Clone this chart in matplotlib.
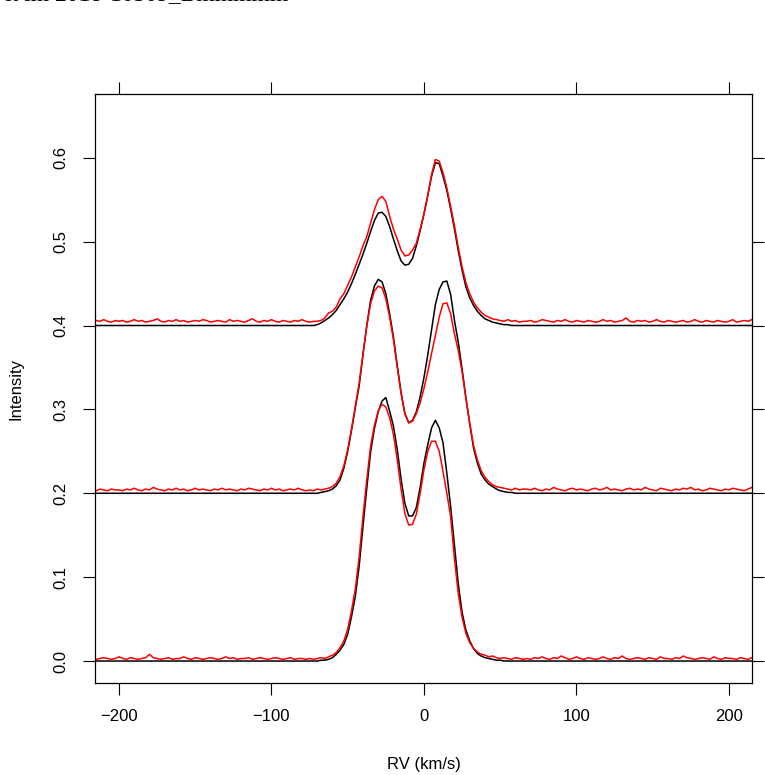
import numpy as np
import matplotlib
matplotlib.use("Agg")
import matplotlib.pyplot as plt

# velocity grids (km/s)
rv_obs = np.arange(-215, 215.1, 2.5)                                  # 173 points
rv_mod = np.concatenate([[-216], np.arange(-75, 65.1, 2.5), [216]])   # 59 points

offsets = [0.0, 0.2, 0.4]

# model profiles (black), intensity x 1000 above each baseline, -75 .. 65 km/s
model_low = [0, 0, 0, 1, 1, 2, 4, 8, 13, 20,
             32, 53, 77, 113, 160, 206, 249, 277, 297, 310,
             314, 298, 280, 252, 217, 188, 173, 173, 183, 207,
             236, 258, 278, 287, 278, 260, 224, 184, 138, 92,
             58, 37, 24, 15, 9, 6, 4, 3, 2, 1,
             1, 0, 0, 0, 0, 0, 0]
model_mid = [0, 0, 0, 1, 2, 3, 5, 9, 16, 30,
             50, 75, 102, 128, 165, 200, 230, 247, 255, 252,
             238, 214, 186, 152, 120, 95, 84, 87, 97, 115,
             138, 165, 195, 225, 243, 252, 253, 237, 206, 180,
             148, 114, 83, 54, 36, 23, 16, 11, 8, 5,
             3, 2, 1, 1, 0, 0, 0]
model_top = [0, 0, 1, 3, 6, 9, 13, 18, 25, 32,
             40, 50, 61, 73, 85, 98, 112, 125, 134, 135,
             130, 118, 103, 89, 77, 72, 73, 80, 95, 113,
             133, 155, 178, 194, 193, 178, 161, 139, 115, 89,
             66, 46, 33, 24, 17, 12, 8, 6, 4, 3,
             2, 1, 1, 0, 0, 0, 0]

# observed profiles (red), intensity x 1000, -215 .. 215 km/s
obs_low = [2, 3, 4, 3, 2, 3, 5, 3, 2, 4, 3, 2, 3, 4, 8, 4, 3, 2, 3, 4,
           2, 3, 3, 5, 3, 2, 4, 3, 2, 3, 4, 3, 2, 3, 5, 3, 4, 2, 3, 3,
           4, 2, 3, 4, 3, 2, 3, 4, 3, 2, 3, 4, 2, 3, 3, 2,
           3, 2, 3, 4, 3, 5, 7, 10, 16, 24,
           38, 60, 86, 124, 172, 216, 256, 281, 298, 306,
           303, 290, 270, 240, 205, 176, 162, 163, 175, 200,
           228, 250, 262, 262, 250, 226, 200, 172, 122, 80,
           52, 33, 22, 15, 11, 8, 7, 5, 6, 4,
           3, 4, 3, 2, 4, 3, 2,
           3, 2, 4, 3, 5, 3, 2, 4, 3, 6, 4, 2, 3, 5, 3, 2, 4, 3, 2, 3,
           5, 3, 2, 4, 3, 6, 3, 2, 3, 4, 3, 2, 4, 3, 2, 5, 3, 3, 2, 4,
           3, 6, 4, 3, 2, 3, 4, 3, 2, 5, 3, 2, 4, 3, 3, 2, 4, 3, 2, 4]
obs_mid = [3, 5, 4, 3, 5, 4, 4, 3, 5, 4, 6, 4, 3, 5, 4, 7, 5, 4, 3, 5,
           4, 6, 4, 5, 3, 4, 6, 4, 5, 4, 3, 5, 4, 6, 4, 5, 4, 3, 5, 4,
           6, 5, 4, 3, 5, 4, 6, 4, 5, 3, 4, 5, 4, 6, 4, 3,
           4, 3, 5, 4, 5, 6, 8, 12, 20, 33,
           52, 77, 104, 131, 166, 199, 226, 241, 247, 245,
           232, 210, 183, 150, 119, 95, 84, 86, 95, 108,
           125, 145, 167, 188, 210, 226, 227, 214, 190, 170,
           145, 113, 84, 57, 40, 27, 19, 14, 10, 8,
           7, 6, 5, 4, 6, 4, 5,
           5, 4, 6, 4, 3, 5, 4, 7, 5, 4, 3, 5, 6, 4, 5, 4, 3, 5, 6, 4,
           5, 7, 4, 5, 4, 3, 5, 6, 4, 5, 4, 7, 5, 4, 3, 6, 5, 4, 3, 5,
           4, 6, 5, 7, 4, 5, 3, 4, 6, 5, 4, 3, 5, 4, 6, 5, 4, 3, 5, 7]
obs_top = [6, 5, 7, 5, 4, 6, 5, 6, 4, 5, 7, 5, 6, 4, 5, 6, 8, 5, 4, 6,
           5, 7, 5, 6, 4, 5, 6, 5, 7, 6, 4, 5, 6, 5, 4, 7, 5, 6, 5, 4,
           6, 8, 5, 4, 6, 5, 7, 5, 4, 6, 5, 4, 6, 5, 7, 5,
           4, 5, 5, 6, 9, 15, 17, 22, 32, 38,
           48, 58, 70, 82, 95, 106, 122, 138, 150, 154,
           148, 130, 115, 103, 90, 83, 84, 90, 98, 115,
           133, 155, 180, 198, 196, 182, 164, 142, 119, 93,
           70, 51, 38, 28, 21, 16, 12, 10, 8, 7,
           6, 5, 7, 5, 6, 4, 5,
           5, 6, 4, 5, 7, 6, 5, 4, 6, 5, 7, 5, 4, 6, 5, 4, 6, 5, 4, 5,
           7, 5, 6, 4, 5, 6, 9, 5, 4, 6, 5, 6, 4, 5, 7, 5, 4, 6, 5, 4,
           5, 6, 4, 5, 7, 5, 4, 6, 5, 4, 6, 5, 4, 5, 7, 4, 5, 6, 5, 7]

models = [model_low, model_mid, model_top]
observed = [obs_low, obs_mid, obs_top]

x_ticks = [-200, -100, 0, 100, 200]
y_ticks = [0.0, 0.1, 0.2, 0.3, 0.4, 0.5, 0.6]

plt.rcParams['font.family'] = ['Liberation Sans', 'DejaVu Sans']

fig = plt.figure(figsize=(7.65, 7.75), dpi=100)
ax = fig.add_axes([95 / 765, 1 - 683 / 775, 657 / 765, 589 / 775])

for off, mod, obs in zip(offsets, models, observed):
    ax.plot(rv_mod, off + np.array([0] + mod + [0]) / 1000, color='black', lw=1.1)
    ax.plot(rv_obs, off + np.array(obs) / 1000, color='red', lw=1.1)

ax.set_xlim(-215.7, 215.1)
ax.set_ylim(-0.0262, 0.676)
ax.set_xticks(x_ticks)
ax.set_xticklabels([str(t).replace('-', '\u2212') for t in x_ticks])
ax.set_yticks(y_ticks)
ax.set_yticklabels([f"{t:.1f}" for t in y_ticks], rotation=90, va='center')
ax.tick_params(direction='out', length=8.5, width=0.8, labelsize=12,
               top=True, right=True, labeltop=False, labelright=False)
ax.tick_params(axis='x', pad=10)
ax.tick_params(axis='y', pad=11)
for s in ax.spines.values():
    s.set_linewidth(0.9)

fig.text(424 / 765, 1 - 765 / 775, "RV (km/s)", ha='center', va='center', fontsize=12)
fig.text(16 / 765, 1 - 389 / 775, "Intensity", ha='center', va='center',
         rotation=90, fontsize=12)
# title, cut off at the top edge of the page
fig.text(-0.01, 1.0, "Fit im 2018-10509_Bmmmmm", ha='left', va='baseline',
         fontsize=17, family='Liberation Serif')

fig.savefig("out.png", dpi=100)
